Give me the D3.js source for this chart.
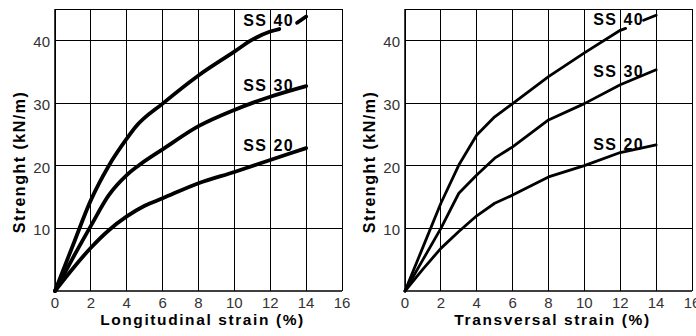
<!DOCTYPE html>
<html>
<head>
<meta charset="utf-8">
<script src="https://cdn.jsdelivr.net/npm/d3@7/dist/d3.min.js"></script>
<style>
  html, body { margin: 0; padding: 0; background: #fff; }
  svg { display: block; }
</style>
</head>
<body>
<div id="chart"></div>
<script>
// strain (%) ticks and strength (kN/m) ticks
const strainTicks = [0, 2, 4, 6, 8, 10, 12, 14, 16];
const strengthTicks = [10, 20, 30, 40];
const seriesNames = ["SS 40", "SS 30", "SS 20"];

// [strain %, strength kN/m]; NaN = gap where the label covers the curve
const long40 = [[0, 0], [1, 7.3], [2, 14.5], [3, 20], [4, 24.3], [4.5, 26.2], [6, 29.9], [8, 34.4], [10, 38.2], [11, 40.1], [12, 41.4], [12.5, 41.8], [13, NaN], [13.5, 42.8], [14, 43.8]];
const long30 = [[0, 0], [1, 5.3], [2, 10.4], [3, 15.3], [4, 18.5], [4.7, 20.1], [6, 22.6], [8, 26.3], [10, 28.9], [12, 31.0], [14, 32.7]];
const long20 = [[0, 0], [1, 3.6], [2, 6.9], [3, 9.7], [4, 11.9], [5, 13.6], [6, 14.8], [8, 17.2], [10, 19.0], [12, 20.9], [14, 22.8]];

const tran40 = [[0, 0], [1, 7], [2, 14], [3, 20.1], [4, 24.9], [5, 27.8], [6, 29.9], [8, 34.2], [10, 38], [12, 41.6], [12.3, 41.9], [13, NaN], [13.3, 43.2], [14, 44]];
const tran30 = [[0, 0], [1, 5], [2, 10], [3, 15.6], [4, 18.5], [5, 21.2], [6, 23], [8, 27.3], [10, 29.9], [12, 32.9], [14, 35.3]];
const tran20 = [[0, 0], [1, 3.5], [2, 6.8], [3, 9.5], [4, 12], [5, 14], [6, 15.3], [8, 18.2], [10, 20], [12, 22.1], [14, 23.3]];

const panels = [
  { left: 55, title: "Longitudinal strain (%)", series: [long40, long30, long20], stroke: 3.8, curve: d3.curveMonotoneX, labelDy: [9, 5, 3] },
  { left: 405, title: "Transversal strain (%)", series: [tran40, tran30, tran20], stroke: 2.8, curve: d3.curveLinear, labelDy: [10, 7, 5] },
];

const W = 696, H = 336;
const plotW = 287, plotTop = 9, plotBottom = 291;
const font = "'Liberation Sans', Arial, sans-serif";

const svg = d3.select("#chart").append("svg")
  .attr("width", W).attr("height", H);

panels.forEach((p) => {
  const x = d3.scaleLinear().domain([0, 16]).range([p.left, p.left + plotW]);
  const y = d3.scaleLinear().domain([0, 45]).range([plotBottom, plotTop]);
  const g = svg.append("g");

  // grid
  g.append("g").selectAll("line").data(strainTicks).join("line")
    .attr("x1", (d) => x(d)).attr("x2", (d) => x(d))
    .attr("y1", y(0)).attr("y2", y(45))
    .attr("stroke", "#000").attr("stroke-width", 1)
    .attr("shape-rendering", "crispEdges");
  g.append("g").selectAll("line").data(strengthTicks.concat([45])).join("line")
    .attr("x1", x(0)).attr("x2", x(16))
    .attr("y1", (d) => y(d)).attr("y2", (d) => y(d))
    .attr("stroke", "#000").attr("stroke-width", 1)
    .attr("shape-rendering", "crispEdges");
  // axis baselines a bit heavier
  g.append("line").attr("x1", x(0)).attr("x2", x(16)).attr("y1", y(0)).attr("y2", y(0))
    .attr("stroke", "#000").attr("stroke-width", 1.5);
  g.append("line").attr("x1", x(0)).attr("x2", x(0)).attr("y1", y(0)).attr("y2", y(45))
    .attr("stroke", "#000").attr("stroke-width", 1.5);

  // tick labels
  g.append("g").selectAll("text").data(strainTicks).join("text")
    .attr("x", (d) => x(d)).attr("y", 307.5)
    .attr("text-anchor", "middle")
    .style("font-family", font).style("font-size", "15px").attr("fill", "#333")
    .text((d) => d);
  g.append("g").selectAll("text").data(strengthTicks).join("text")
    .attr("x", x(0) - 5).attr("y", (d) => y(d) + 7)
    .attr("text-anchor", "end")
    .style("font-family", font).style("font-size", "15px").attr("fill", "#333")
    .text((d) => d);

  // titles
  g.append("text")
    .attr("x", (x(0) + x(16)) / 2 + 4).attr("y", 325)
    .attr("text-anchor", "middle")
    .style("font-family", font).style("font-size", "15.5px").style("font-weight", "bold")
    .style("letter-spacing", "1.6px")
    .text(p.title);
  g.append("text")
    .attr("transform", `translate(${x(0) - 30}, 162) rotate(-90)`)
    .attr("text-anchor", "middle")
    .style("font-family", font).style("font-size", "16px").style("font-weight", "bold")
    .style("letter-spacing", "1.5px")
    .text("Strenght (kN/m)");

  // curves
  const line = d3.line()
    .defined((d) => !isNaN(d[1]))
    .x((d) => x(d[0])).y((d) => y(d[1]))
    .curve(p.curve);
  g.append("g").selectAll("path").data(p.series).join("path")
    .attr("d", line)
    .attr("fill", "none").attr("stroke", "#000")
    .attr("stroke-width", p.stroke)
    .attr("stroke-linejoin", "round").attr("stroke-linecap", "round");

  // series labels, placed from the curve end
  g.append("g").selectAll("text").data(p.series).join("text")
    .attr("x", (d) => x(d[d.length - 1][0]) - 63)
    .attr("y", (d, i) => y(d[d.length - 1][1]) + p.labelDy[i])
    .style("font-family", font).style("font-size", "16px").style("font-weight", "bold")
    .style("letter-spacing", "1.5px")
    .text((d, i) => seriesNames[i]);
});
</script>
</body>
</html>
